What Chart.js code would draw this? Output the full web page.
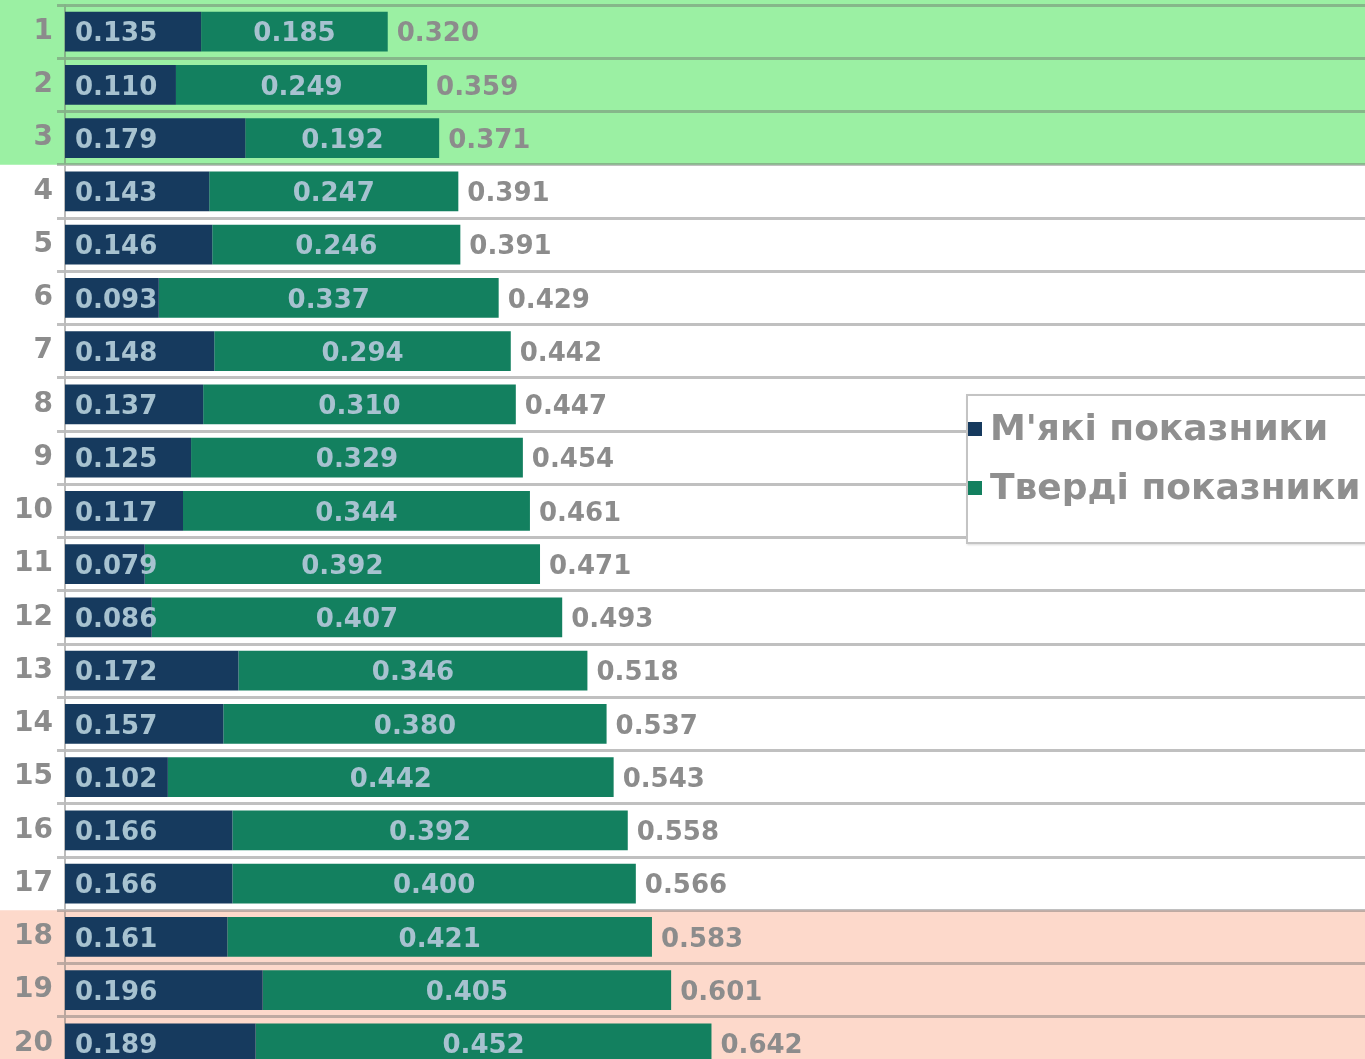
<!DOCTYPE html>
<html>
<head>
<meta charset="utf-8">
<script src="https://cdn.jsdelivr.net/npm/chart.js@4.4.1/dist/chart.umd.min.js"></script>
<style>
  html, body { margin: 0; padding: 0; background: #ffffff; overflow: hidden; width: 1365px; height: 1059px; }
  #wrap { position: relative; width: 1365px; height: 1059px; overflow: hidden; }
  #grafico { position: absolute; left: 0; top: 0; }
  #leyenda {
    position: absolute; left: 966px; top: 394px; width: 420px; height: 146px;
    background: #ffffff; border: 2px solid #c4c4c4; box-shadow: 1px 1px 2px rgba(0,0,0,0.15);
    font-family: "DejaVu Sans", sans-serif; font-weight: bold; font-size: 36px; color: #8f8f8f;
  }
  .item { position: absolute; left: 0; white-space: nowrap; line-height: 40px; }
  .cuadro { display: inline-block; width: 14px; height: 14px; margin-right: 8px; vertical-align: 4px; }
</style>
</head>
<body>
<div id="wrap">
  <canvas id="grafico" width="1365" height="1070"></canvas>
  <div id="leyenda">
    <div class="item" style="top: 12px;"><span class="cuadro" style="background:#163a5e"></span>М'які показники</div>
    <div class="item" style="top: 71px;"><span class="cuadro" style="background:#13805f"></span>Тверді показники</div>
  </div>
</div>
<script>
const categorias = ["1","2","3","4","5","6","7","8","9","10","11","12","13","14","15","16","17","18","19","20"];
const mjakiValores = [0.135,0.110,0.179,0.143,0.146,0.093,0.148,0.137,0.125,0.117,0.079,0.086,0.172,0.157,0.102,0.166,0.166,0.161,0.196,0.189];
const tverdiValores = [0.185,0.249,0.192,0.247,0.246,0.337,0.294,0.310,0.329,0.344,0.392,0.407,0.346,0.380,0.442,0.392,0.400,0.421,0.405,0.452];
const totales = [0.320,0.359,0.371,0.391,0.391,0.429,0.442,0.447,0.454,0.461,0.471,0.493,0.518,0.537,0.543,0.558,0.566,0.583,0.601,0.642];
const filasVerdes = [0, 1, 2];
const filasRosas = [17, 18, 19];

const fuente = "bold 26px 'DejaVu Sans', sans-serif";

// bandas de color detras de las filas
const pluginBandas = {
    id: "bandas",
    beforeDraw(chart) {
        const ctx = chart.ctx;
        const y = chart.scales.y;
        const paso = y.getPixelForValue(1) - y.getPixelForValue(0);
        function pintar(filas, color) {
            let arriba = y.getPixelForValue(filas[0]) - paso / 2;
            let abajo = y.getPixelForValue(filas[filas.length - 1]) + paso / 2;
            if (filas[0] === 0) arriba = 0;
            if (filas[filas.length - 1] === categorias.length - 1) abajo = chart.height;
            ctx.save();
            ctx.fillStyle = color;
            ctx.fillRect(0, arriba, chart.width, abajo - arriba);
            ctx.restore();
        }
        pintar(filasVerdes, "#9bf0a3");
        pintar(filasRosas, "#fdd9cb");
    }
};

// etiquetas de valores dentro y al final de las barras
const pluginEtiquetas = {
    id: "etiquetas",
    afterDatasetsDraw(chart) {
        const ctx = chart.ctx;
        const metaM = chart.getDatasetMeta(0);
        const metaT = chart.getDatasetMeta(1);
        ctx.save();
        ctx.font = fuente;
        ctx.textBaseline = "middle";
        metaM.data.forEach((barra, i) => {
            ctx.fillStyle = "#a7c2d0";
            ctx.textAlign = "left";
            ctx.fillText(mjakiValores[i].toFixed(3), barra.base + 10, barra.y + 3);
        });
        metaT.data.forEach((barra, i) => {
            ctx.fillStyle = "#a7c2d0";
            ctx.textAlign = "center";
            ctx.fillText(tverdiValores[i].toFixed(3), (barra.base + barra.x) / 2, barra.y + 3);
            ctx.fillStyle = "#8c8c8c";
            ctx.textAlign = "left";
            ctx.fillText(totales[i].toFixed(3), barra.x + 9, barra.y + 3);
        });
        ctx.restore();
    }
};

new Chart(document.getElementById("grafico"), {
    type: "bar",
    data: {
        labels: categorias,
        datasets: [
            {
                label: "М'які показники",
                data: mjakiValores,
                backgroundColor: "#163a5e",
                categoryPercentage: 1,
                barPercentage: 0.75
            },
            {
                label: "Тверді показники",
                data: tverdiValores,
                backgroundColor: "#13805f",
                categoryPercentage: 1,
                barPercentage: 0.75
            }
        ]
    },
    options: {
        indexAxis: "y",
        responsive: false,
        animation: false,
        devicePixelRatio: 1,
        layout: { padding: { top: 5, left: 0, right: 0, bottom: 0 } },
        plugins: {
            legend: { display: false },
            tooltip: { enabled: false }
        },
        scales: {
            x: {
                display: false,
                stacked: true,
                min: 0,
                max: 1.289
            },
            y: {
                stacked: true,
                afterFit(scale) {
                    scale.width = 65;
                    scale.paddingTop = 0;
                    scale.paddingBottom = 0;
                },
                grid: {
                    offset: true,
                    color: "rgba(105,105,105,0.42)",
                    lineWidth: 3,
                    tickLength: 8,
                    drawOnChartArea: true
                },
                border: { display: true, color: "rgba(105,105,105,0.45)", width: 2 },
                ticks: {
                    color: "#8c8c8c",
                    padding: 4,
                    font: { family: "'DejaVu Sans', sans-serif", weight: "bold", size: 28 }
                }
            }
        }
    },
    plugins: [pluginBandas, pluginEtiquetas]
});
</script>
</body>
</html>
